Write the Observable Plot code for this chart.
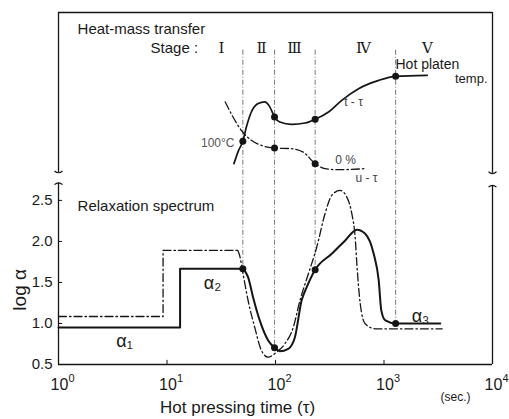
<!DOCTYPE html>
<html><head><meta charset="utf-8">
<script src="https://cdn.jsdelivr.net/npm/d3@7"></script>
<script src="https://cdn.jsdelivr.net/npm/@observablehq/plot@0.6"></script>
<style>body{margin:0;background:#fff}</style>
</head><body><div id="chart"></div>
<script>
// ---- data ----
const xTicks = [1, 10, 100, 1000, 10000];
const xExp = ["0", "1", "2", "3", "4"];
const yTicks = [0.5, 1.0, 1.5, 2.0, 2.5];

const stageBounds = [50, 98, 232, 1280];
const stageNames = ["Ⅰ", "Ⅱ", "Ⅲ", "Ⅳ", "Ⅴ"];
const stageNameX = [31.8, 74.3, 150, 647, 2515];

// lower panel: relaxation spectrum (log α)
const solidStep = [[1, 0.95], [13.2, 0.95], [13.2, 1.667], [50, 1.667]];
const solidCurve = [[50, 1.667], [55.9, 1.565], [62.1, 1.321], [71.6, 1.037], [85.6, 0.793], [98, 0.704],
  [109.6, 0.662], [131, 0.691], [151, 0.833], [174, 1.28], [194, 1.443], [232, 1.655], [330, 1.85],
  [439, 2.012], [562, 2.143], [671, 2.094], [803, 1.85], [894, 1.524], [944, 1.159], [1028, 1.037],
  [1280, 1.0], [3300, 1.0]];
const dashStep = [[1, 1.085], [9.2, 1.085], [9.2, 1.89], [45, 1.89]];
const dashCurve = [[45, 1.89], [46.7, 1.83], [50.2, 1.606], [55.9, 1.28], [64.3, 0.955], [74.2, 0.671],
  [85.6, 0.589], [102, 0.65], [122, 0.752], [146, 0.955], [168, 1.28], [201, 1.606], [240, 1.93],
  [286, 2.338], [330, 2.561], [394, 2.622], [454, 2.54], [505, 2.338], [542, 2.053], [562, 1.728],
  [604, 1.24], [671, 0.996], [830, 0.935], [3440, 0.935]];
const lowerDotY = [1.667, 0.704, 1.655, 1.0];

// upper panel: heat-mass transfer (schematic, same vertical units)
const tCurve = [[41.4, 2.948], [45.7, 3.11], [50, 3.22], [53.9, 3.394], [59.9, 3.577], [69.2, 3.68],
  [79.6, 3.70], [88.6, 3.64], [98, 3.516], [109.6, 3.455], [141, 3.427], [187, 3.443], [232, 3.488],
  [308, 3.577], [408, 3.72], [583, 3.862], [894, 3.963], [1280, 4.012], [2500, 4.024]];
const tDotY = [3.22, 3.516, 3.488, 4.012];
const uCurve = [[34.4, 3.70], [40.6, 3.516], [48.4, 3.354], [59.9, 3.232], [74.2, 3.171], [98, 3.138],
  [141, 3.13], [180, 3.089], [232, 2.948], [286, 2.887], [380, 2.874], [671, 2.887]];
const uDotX = [98, 232];
const uDotY = [3.138, 2.948];

// annotations
const annText = ["Heat-mass transfer", "Stage :", "Hot platen", "temp.", "t - τ", "100°C", "0 %", "u - τ",
  "Relaxation spectrum", "α₁", "α₂", "α₃", "Hot pressing time (τ)", "(sec.)"];
const annX = [1.5, 7.05, 1276, 8995, 524, 41.9, 442, 690, 1.5, 4.06, 26.3, 2170, 44.7, 4560];
const annY = [4.585, 4.354, 4.15, 3.985, 3.695, 3.195, 2.988, 2.768, 2.427, 0.78, 1.488, 1.085, -0.03, 0.098];
const annAnchor = ["start", "start", "start", "end", "middle", "end", "middle", "middle", "start",
  "middle", "middle", "middle", "middle", "middle"];
const annSize = [15, 15, 14, 13, 12, 12, 12, 12, 15, 18, 18, 18, 17, 12];
const annSpacing = [1, 1, 0.3, 0.3, 0, 0, 0, 0, 1, 0, 0, 0, 3, 1];
const annColor = ["#1a1a1a", "#1a1a1a", "#1a1a1a", "#1a1a1a", "#444", "#555", "#444", "#444",
  "#1a1a1a", "#1a1a1a", "#1a1a1a", "#1a1a1a", "#1a1a1a", "#1a1a1a"];

// frame (y extent of upper panel and axis breaks)
const yTop = 4.79;
const leftSegs = [[yTop, 2.84], [2.71, 0.5]];
const rightSegs = [[yTop, 2.83], [2.68, 0.5]];
const stageTop = 4.33;

// ---- build tables ----
const ann = annText.map((t, i) => ({t, x: annX[i], y: annY[i], a: annAnchor[i], s: annSize[i], ls: annSpacing[i], c: annColor[i]}));
const stages = stageBounds.map((x, i) => ({x, y1: stageTop, y2: lowerDotY[i]}));
const lowerDots = stageBounds.map((x, i) => ({x, y: lowerDotY[i]}));
const tDots = stageBounds.map((x, i) => ({x, y: tDotY[i]}));
const uDots = uDotX.map((x, i) => ({x, y: uDotY[i]}));
const frameSegs = [...leftSegs.map(s => ({x: 1, y1: s[0], y2: s[1]})), ...rightSegs.map(s => ({x: 1e4, y1: s[0], y2: s[1]}))];
const capsDown = [{x: 1, y: 2.84}, {x: 1e4, y: 2.83}];
const capsUp = [{x: 1, y: 2.71}, {x: 1e4, y: 2.68}];

const capBottom = {draw(ctx, size) { const r = Math.sqrt(size / Math.PI); ctx.moveTo(-r, -1.5); ctx.quadraticCurveTo(0, 2, r, -1.5); }};
const capTop = {draw(ctx, size) { const r = Math.sqrt(size / Math.PI); ctx.moveTo(-r, 1.5); ctx.quadraticCurveTo(0, -2, r, 1.5); }};

const ink = "#151515";
const dashdot = "8,3,1.5,3";

const chart = Plot.plot({
  width: 509, height: 419,
  marginLeft: 58, marginRight: 17, marginTop: 12, marginBottom: 55,
  x: {type: "log", domain: [1, 1e4], axis: null},
  y: {domain: [0.5, yTop], axis: null},
  style: {fontFamily: "'Liberation Sans', Arial, sans-serif", fontSize: "15px", background: "#fff", color: "#1a1a1a"},
  marks: [
    // frame
    Plot.ruleY([yTop], {x1: 1, x2: 1e4, stroke: ink, strokeWidth: 1.3}),
    Plot.ruleY([0.5], {x1: 1, x2: 1e4, stroke: ink, strokeWidth: 1.3}),
    Plot.ruleX(frameSegs, {x: "x", y1: "y1", y2: "y2", stroke: ink, strokeWidth: 1.3}),
    Plot.dot(capsDown, {x: "x", y: "y", r: 4, symbol: capBottom, fill: "none", stroke: ink, strokeWidth: 1.2}),
    Plot.dot(capsUp, {x: "x", y: "y", r: 4, symbol: capTop, fill: "none", stroke: ink, strokeWidth: 1.2}),
    // ticks
    Plot.ruleY(yTicks, {y: d => d, x1: 1, x2: 1.09, stroke: ink, strokeWidth: 1}),
    Plot.ruleX(xTicks, {x: d => d, y1: 0.5, y2: 0.55, stroke: ink, strokeWidth: 1}),
    Plot.text(yTicks, {x: 1, y: d => d, text: d => d.toFixed(1), dx: -6, textAnchor: "end", fontSize: 15}),
    Plot.text(xTicks, {x: d => d, y: 0.5, text: () => "10", dx: 1, dy: 20, fontSize: 16}),
    Plot.text(xTicks, {x: d => d, y: 0.5, text: (d, i) => xExp[i], dx: 10, dy: 14, textAnchor: "start", fontSize: 11}),
    Plot.text(["log α"], {x: 1, y: 1.41, dx: -39, rotate: -90, fontSize: 19, style: "letter-spacing:2px"}),
    // stage lines & names
    Plot.ruleX(stages, {x: "x", y1: "y1", y2: "y2", stroke: "#555", strokeWidth: 0.8, strokeDasharray: "5,2,1,2"}),
    Plot.text(stageNames, {x: (d, i) => stageNameX[i], y: 4.354, text: d => d, fontFamily: "'DejaVu Serif', serif", fontSize: 15}),
    // upper panel curves
    Plot.line(tCurve, {x: "0", y: "1", curve: "monotone-x", stroke: ink, strokeWidth: 1.7}),
    Plot.line(uCurve, {x: "0", y: "1", curve: "monotone-x", stroke: ink, strokeWidth: 1.3, strokeDasharray: dashdot}),
    Plot.dot(tDots, {x: "x", y: "y", r: 3.5, fill: ink}),
    Plot.dot(uDots, {x: "x", y: "y", r: 3.5, fill: ink}),
    // lower panel curves
    Plot.line(dashStep, {x: "0", y: "1", stroke: ink, strokeWidth: 1.3, strokeDasharray: dashdot}),
    Plot.line(dashCurve, {x: "0", y: "1", curve: "monotone-x", stroke: ink, strokeWidth: 1.3, strokeDasharray: dashdot}),
    Plot.line(solidStep, {x: "0", y: "1", stroke: ink, strokeWidth: 2}),
    Plot.line(solidCurve, {x: "0", y: "1", curve: "monotone-x", stroke: ink, strokeWidth: 2}),
    Plot.dot(lowerDots, {x: "x", y: "y", r: 3.5, fill: ink}),
    // annotations
    ...ann.map(d => Plot.text([d], {x: "x", y: "y", text: "t", textAnchor: d.a, fontSize: d.s, fill: d.c, style: `letter-spacing:${d.ls}px`}))
  ]
});
document.getElementById("chart").append(chart);
</script></body></html>
